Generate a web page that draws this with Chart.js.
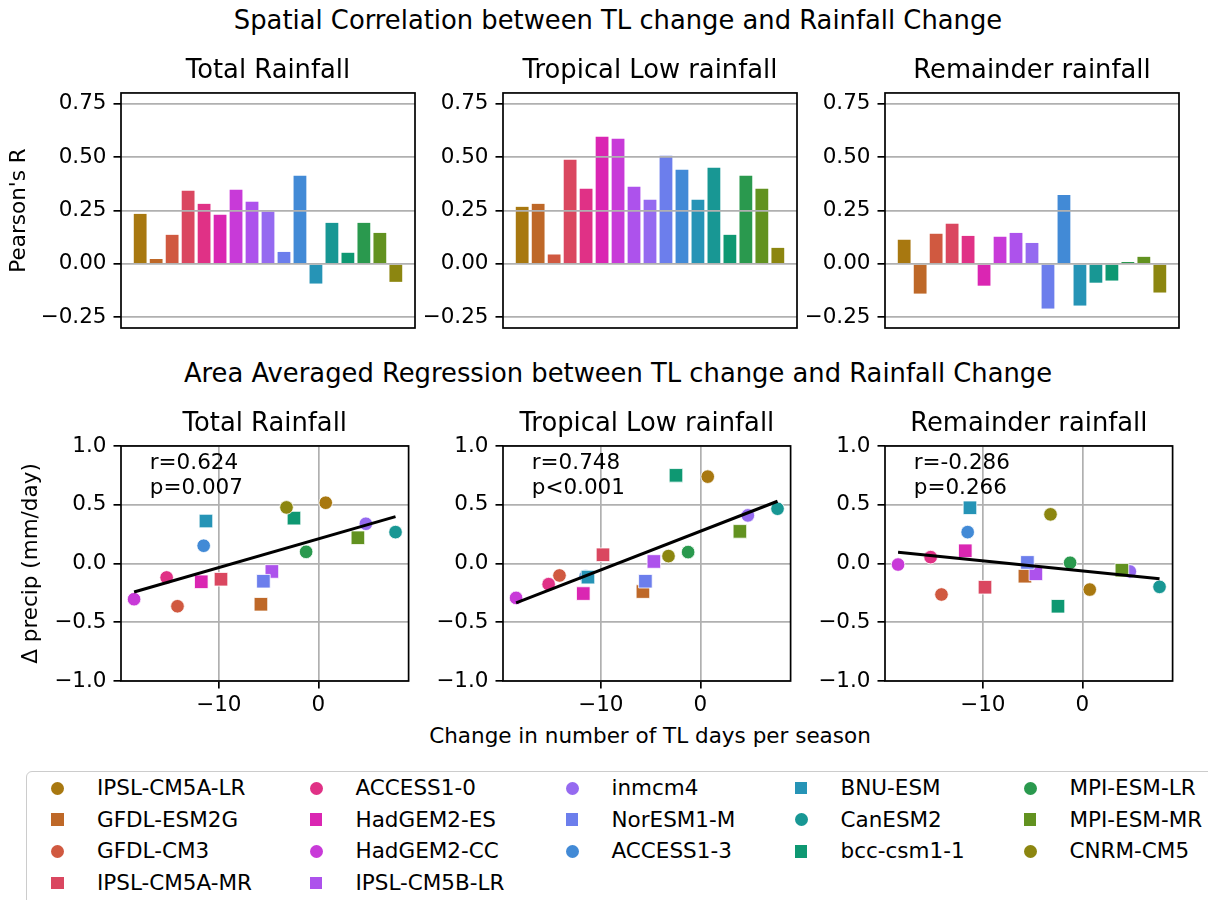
<!DOCTYPE html>
<html>
<head>
<meta charset="utf-8">
<title>TL change vs rainfall change</title>
<script src="https://cdn.jsdelivr.net/npm/chart.js@4.4.0/dist/chart.umd.min.js"></script>
<style>
  html, body { margin: 0; padding: 0; background: #fff; }
  body { position: relative; width: 1208px; height: 900px; overflow: hidden;
         font-family: 'DejaVu Sans', sans-serif; color: #000; }
  .sup { position: absolute; left: 618px; transform: translateX(-50%); white-space: nowrap;
         font-size: 25.8px; line-height: 25.8px; }
  .xlab { position: absolute; left: 650px; top: 724.6px; transform: translateX(-50%); white-space: nowrap;
          font-size: 21.5px; line-height: 21.5px; }
  canvas { position: absolute; }
  #legendBox { position: absolute; left: 26px; top: 770.5px; width: 1260px; height: 200px;
               border: 1.7px solid #cccccc; border-radius: 6px; box-sizing: border-box; background: #fff; }
  .lg-mark { position: absolute; }
  .lg-text { position: absolute; font-size: 21.5px; line-height: 21.5px; white-space: nowrap;
             transform: translateY(-50%); }
</style>
</head>
<body>
<div class="sup" style="top:7.5px">Spatial Correlation between TL change and Rainfall Change</div>
<div class="sup" style="top:360.5px">Area Averaged Regression between TL change and Rainfall Change</div>
<div class="xlab">Change in number of TL days per season</div>
<div id="legendBox"></div>
<script>
// ---- model list, marker shapes and colours ----
const models = ['IPSL-CM5A-LR', 'GFDL-ESM2G', 'GFDL-CM3', 'IPSL-CM5A-MR', 'ACCESS1-0', 'HadGEM2-ES',
  'HadGEM2-CC', 'IPSL-CM5B-LR', 'inmcm4', 'NorESM1-M', 'ACCESS1-3', 'BNU-ESM', 'CanESM2',
  'bcc-csm1-1', 'MPI-ESM-LR', 'MPI-ESM-MR', 'CNRM-CM5'];
const markerShapes = ['o', 's', 'o', 's', 'o', 's', 'o', 's', 'o', 's', 'o', 's', 'o', 's', 'o', 's', 'o'];
const modelColors = ['#a87810', '#be6828', '#d05940', '#da4760', '#e03186', '#da26b2', '#c83ad8',
  '#ad52ec', '#956af0', '#6c7eec', '#428ad6', '#2694b6', '#189794', '#0e9872', '#2a994e',
  '#629220', '#8c8610'];

const panelTitles = ['Total Rainfall', 'Tropical Low rainfall', 'Remainder rainfall'];

// ---- spatial correlation (Pearson's R) per model ----
const pearsonTotal = [0.234, 0.023, 0.136, 0.342, 0.281, 0.230, 0.347, 0.291, 0.245, 0.056,
  0.412, -0.092, 0.192, 0.052, 0.192, 0.145, -0.084];
const pearsonTropicalLow = [0.267, 0.281, 0.044, 0.488, 0.352, 0.595, 0.586, 0.361, 0.300, 0.506,
  0.441, 0.300, 0.450, 0.136, 0.412, 0.352, 0.075];
const pearsonRemainder = [0.113, -0.139, 0.141, 0.188, 0.131, -0.102, 0.127, 0.145, 0.098, -0.209,
  0.323, -0.195, -0.088, -0.078, 0.009, 0.033, -0.134];

// ---- area-averaged changes per model ----
const tlDaysChange = [0.74, -5.77, -14.15, -9.78, -15.24, -11.76, -18.51, -4.67, 4.77, -5.52,
  -11.52, -11.29, 7.75, -2.45, -1.23, 3.97, -3.20];
const precipTotal = [0.517, -0.347, -0.364, -0.134, -0.119, -0.156, -0.304, -0.068, 0.338, -0.151,
  0.151, 0.361, 0.267, 0.386, 0.099, 0.219, 0.477];
const precipTropicalLow = [0.739, -0.239, -0.102, 0.074, -0.176, -0.256, -0.293, 0.017, 0.409, -0.151,
  -0.110, -0.116, 0.466, 0.750, 0.097, 0.273, 0.063];
const precipRemainder = [-0.222, -0.108, -0.264, -0.202, 0.054, 0.108, -0.009, -0.088, -0.068, 0.009,
  0.267, 0.474, -0.199, -0.364, 0.006, -0.057, 0.418];

const corrLabels = ['r=0.624', 'r=0.748', 'r=-0.286'];
const pLabels = ['p=0.007', 'p<0.001', 'p=0.266'];

// ---- tick values ----
const barYTicks = [-0.25, 0, 0.25, 0.5, 0.75];
const scatterYTicks = [-1, -0.5, 0, 0.5, 1];
const scatterXTicks = [-10, 0];

// ---- shared styling ----
Chart.defaults.font.family = "'DejaVu Sans', sans-serif";
Chart.defaults.font.size = 21.5;
Chart.defaults.color = '#000';

const TICK_LEN = 7.5;
const LINE_W = 1.7;
const GRID_COLOR = '#b0b0b0';
const PLOT_LEFTS = [121, 503, 885];
const PLOT_W = 294;
const PLOT_H = 235;
const Y_AXIS_W = 121;
const RIGHT_PAD = 4;
const TITLE_BLOCK = 37; // 31 (title line) + 6 (padding below)

const fmt = (v, d) => {
  const s = Math.abs(v).toFixed(d);
  return v < -1e-12 ? '\u2212' + s : s;
};

// black box around each plot area
const framePlugin = {
  id: 'frame',
  afterDraw(chart) {
    const { ctx, chartArea: a } = chart;
    ctx.save();
    ctx.strokeStyle = '#000';
    ctx.lineWidth = LINE_W;
    ctx.strokeRect(a.left, a.top, a.right - a.left, a.bottom - a.top);
    ctx.restore();
  }
};

// r / p annotation in the upper-left corner of a scatter panel
const statPlugin = {
  id: 'statText',
  afterDatasetsDraw(chart, args, opts) {
    if (!opts || !opts.lines) return;
    const { ctx, chartArea: a } = chart;
    ctx.save();
    ctx.font = "21.5px 'DejaVu Sans'";
    ctx.fillStyle = '#000';
    ctx.textAlign = 'left';
    ctx.textBaseline = 'alphabetic';
    const x = a.left + 0.1 * (a.right - a.left);
    opts.lines.forEach((t, i) => ctx.fillText(t, x, a.top + 23.3 + i * 24.3));
    ctx.restore();
  }
};

function makeCanvas(left, top, w, h) {
  const c = document.createElement('canvas');
  c.width = w; c.height = h;
  c.style.left = left + 'px'; c.style.top = top + 'px';
  c.style.width = w + 'px'; c.style.height = h + 'px';
  document.body.appendChild(c);
  return c;
}

function titleOpts(text) {
  return {
    display: true, text, fullSize: false, color: '#000',
    font: { size: 25.8, weight: 'normal', lineHeight: 1.2 },
    padding: { top: 0, bottom: 6 }
  };
}

function linearFit(xs, ys) {
  const n = xs.length;
  const mx = xs.reduce((a, b) => a + b, 0) / n;
  const my = ys.reduce((a, b) => a + b, 0) / n;
  let sxy = 0, sxx = 0;
  for (let i = 0; i < n; i++) { sxy += (xs[i] - mx) * (ys[i] - my); sxx += (xs[i] - mx) ** 2; }
  const slope = sxy / sxx;
  return { slope, intercept: my - slope * mx };
}

// ---- top row: bar charts of spatial correlation ----
const barSeries = [pearsonTotal, pearsonTropicalLow, pearsonRemainder];
const TOP_ROW_TOP = 56;
const TOP_X_H = 24;
barSeries.forEach((values, p) => {
  const canvas = makeCanvas(PLOT_LEFTS[p] - Y_AXIS_W, TOP_ROW_TOP,
    Y_AXIS_W + PLOT_W + RIGHT_PAD, TITLE_BLOCK + PLOT_H + TOP_X_H);
  new Chart(canvas, {
    type: 'bar',
    data: {
      datasets: [{
        data: values.map((v, i) => ({ x: i, y: v })),
        backgroundColor: modelColors,
        borderWidth: 0,
        barPercentage: 1,
        categoryPercentage: 0.8
      }]
    },
    options: {
      responsive: false, animation: false, devicePixelRatio: 1, events: [],
      layout: { padding: { left: 0, top: 0, bottom: 0, right: RIGHT_PAD } },
      plugins: { legend: { display: false }, tooltip: { enabled: false }, title: titleOpts(panelTitles[p]) },
      scales: {
        x: {
          type: 'linear', min: -1.2, max: values.length - 1 + 1.2, offset: false,
          grid: { display: false, offset: false }, border: { display: false },
          ticks: { display: false },
          afterBuildTicks: s => { s.ticks = values.map((_, i) => ({ value: i })); },
          afterFit: s => { s.height = TOP_X_H; }
        },
        y: {
          min: -0.3, max: 0.8,
          afterBuildTicks: s => { s.ticks = barYTicks.map(v => ({ value: v })); },
          ticks: { padding: 7, callback: v => fmt(v, 2) },
          grid: { color: GRID_COLOR, lineWidth: LINE_W, z: 1, tickLength: TICK_LEN,
                  tickColor: '#000', tickWidth: LINE_W },
          border: { display: false },
          title: { display: p === 0, text: "Pearson's R", font: { size: 21.5 },
                   padding: { top: 6.5, bottom: 0 } },
          afterFit: s => { s.width = Y_AXIS_W; }
        }
      }
    },
    plugins: [framePlugin]
  });
});

// ---- bottom row: scatter + regression line ----
const precipSeries = [precipTotal, precipTropicalLow, precipRemainder];
const BOT_ROW_TOP = 409;
const BOT_X_H = 60;
const xLo = Math.min(...tlDaysChange), xHi = Math.max(...tlDaysChange);
const xMargin = 0.05 * (xHi - xLo);

precipSeries.forEach((ys, p) => {
  const fit = linearFit(tlDaysChange, ys);
  const canvas = makeCanvas(PLOT_LEFTS[p] - Y_AXIS_W, BOT_ROW_TOP,
    Y_AXIS_W + PLOT_W + RIGHT_PAD, TITLE_BLOCK + PLOT_H + BOT_X_H);
  new Chart(canvas, {
    type: 'scatter',
    data: {
      datasets: [
        {
          data: [xLo, xHi].map(x => ({ x, y: fit.intercept + fit.slope * x })),
          showLine: true, borderColor: '#000', borderWidth: 3, pointRadius: 0,
          fill: false, tension: 0, order: 0
        },
        {
          data: tlDaysChange.map((x, i) => ({ x, y: ys[i] })),
          pointStyle: markerShapes.map(m => (m === 's' ? 'rect' : 'circle')),
          pointRadius: markerShapes.map(m => (m === 's' ? 9.6 : 6.8)),
          backgroundColor: modelColors,
          borderColor: '#ffffff', borderWidth: 0.8, order: 1
        }
      ]
    },
    options: {
      responsive: false, animation: false, devicePixelRatio: 1, events: [],
      layout: { padding: { left: 0, top: 0, bottom: 0, right: RIGHT_PAD } },
      plugins: {
        legend: { display: false }, tooltip: { enabled: false },
        title: titleOpts(panelTitles[p]),
        statText: { lines: [corrLabels[p], pLabels[p]] }
      },
      scales: {
        x: {
          type: 'linear', min: xLo - xMargin, max: xHi + xMargin,
          afterBuildTicks: s => { s.ticks = scatterXTicks.map(v => ({ value: v })); },
          ticks: { padding: 4, callback: v => fmt(v, 0) },
          grid: { color: GRID_COLOR, lineWidth: LINE_W, tickLength: TICK_LEN,
                  tickColor: '#000', tickWidth: LINE_W },
          border: { display: false },
          afterFit: s => { s.height = BOT_X_H; }
        },
        y: {
          min: -1, max: 1,
          afterBuildTicks: s => { s.ticks = scatterYTicks.map(v => ({ value: v })); },
          ticks: { padding: 7, callback: v => fmt(v, 1) },
          grid: { color: GRID_COLOR, lineWidth: LINE_W, tickLength: TICK_LEN,
                  tickColor: '#000', tickWidth: LINE_W },
          border: { display: false },
          title: { display: p === 0, text: '\u0394 precip (mm/day)', font: { size: 21.5 },
                   padding: { top: 18.8, bottom: 0 } },
          afterFit: s => { s.width = Y_AXIS_W; }
        }
      }
    },
    plugins: [framePlugin, statPlugin]
  });
});

// ---- shared legend (5 columns, filled column by column) ----
const LEGEND_COL_X = [57.5, 316, 572, 801, 1030];
const LEGEND_ROW_Y = [788, 819.7, 851.4, 883.1];
const nCol = LEGEND_COL_X.length;
const baseRows = Math.floor(models.length / nCol);
const extra = models.length % nCol;
let idx = 0;
for (let c = 0; c < nCol; c++) {
  const rows = baseRows + (c < extra ? 1 : 0);
  for (let r = 0; r < rows; r++, idx++) {
    const cx = LEGEND_COL_X[c], cy = LEGEND_ROW_Y[r];
    const mark = document.createElement('div');
    mark.className = 'lg-mark';
    const size = markerShapes[idx] === 's' ? 12.5 : 13;
    mark.style.width = size + 'px';
    mark.style.height = size + 'px';
    mark.style.left = (cx - size / 2) + 'px';
    mark.style.top = (cy - size / 2) + 'px';
    mark.style.background = modelColors[idx];
    if (markerShapes[idx] === 'o') mark.style.borderRadius = '50%';
    document.body.appendChild(mark);
    const label = document.createElement('div');
    label.className = 'lg-text';
    label.textContent = models[idx];
    label.style.left = (cx + 39.5) + 'px';
    label.style.top = cy + 'px';
    document.body.appendChild(label);
  }
}
</script>
</body>
</html>
